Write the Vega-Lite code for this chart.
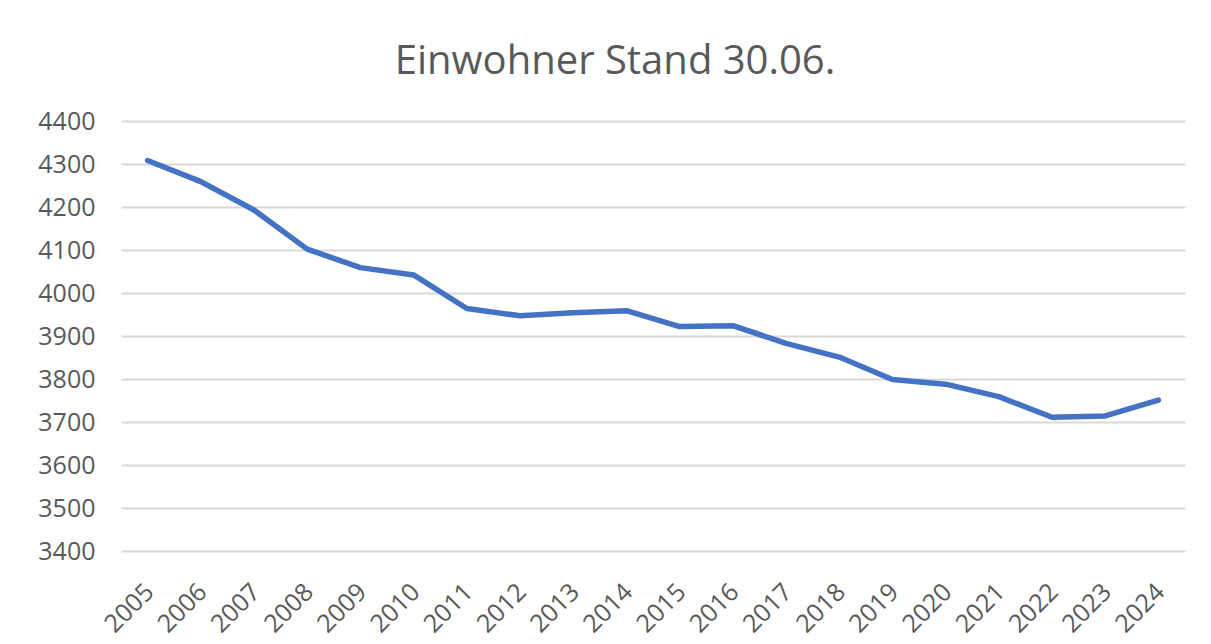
{
  "$schema": "https://vega.github.io/schema/vega-lite/v6.json",
  "width": 1064,
  "height": 430,
  "autosize": {"type": "none"},
  "padding": {"left": 121, "top": 121, "right": 26, "bottom": 93},
  "background": "white",
  "title": {
    "text": "Einwohner Stand 30.06.",
    "font": "Open Sans",
    "fontSize": 40,
    "fontWeight": "normal",
    "color": "#595959",
    "anchor": "middle",
    "dx": -38,
    "offset": 27
  },
  "data": {
    "values": [
      {"Jahr": "2005", "Einwohner": 4308},
      {"Jahr": "2006", "Einwohner": 4259},
      {"Jahr": "2007", "Einwohner": 4193},
      {"Jahr": "2008", "Einwohner": 4102},
      {"Jahr": "2009", "Einwohner": 4059},
      {"Jahr": "2010", "Einwohner": 4042},
      {"Jahr": "2011", "Einwohner": 3964},
      {"Jahr": "2012", "Einwohner": 3947},
      {"Jahr": "2013", "Einwohner": 3954},
      {"Jahr": "2014", "Einwohner": 3959},
      {"Jahr": "2015", "Einwohner": 3922},
      {"Jahr": "2016", "Einwohner": 3924},
      {"Jahr": "2017", "Einwohner": 3883},
      {"Jahr": "2018", "Einwohner": 3851},
      {"Jahr": "2019", "Einwohner": 3799},
      {"Jahr": "2020", "Einwohner": 3788},
      {"Jahr": "2021", "Einwohner": 3759},
      {"Jahr": "2022", "Einwohner": 3711},
      {"Jahr": "2023", "Einwohner": 3714},
      {"Jahr": "2024", "Einwohner": 3751}
    ]
  },
  "mark": {"type": "line", "color": "#4472C4", "strokeWidth": 5.5, "strokeCap": "round", "strokeJoin": "round"},
  "encoding": {
    "x": {
      "field": "Jahr",
      "type": "ordinal",
      "title": null,
      "axis": {
        "labelAngle": -45,
        "labelFont": "Open Sans",
        "labelFontSize": 25,
        "labelColor": "#595959",
        "labelPadding": 28,
        "labelOffset": -7,
        "ticks": false,
        "domain": false,
        "grid": false
      }
    },
    "y": {
      "field": "Einwohner",
      "type": "quantitative",
      "title": null,
      "scale": {"domain": [3400, 4400], "nice": false, "zero": false},
      "axis": {
        "values": [3400, 3500, 3600, 3700, 3800, 3900, 4000, 4100, 4200, 4300, 4400],
        "labelFont": "Open Sans",
        "labelFontSize": 25,
        "labelColor": "#595959",
        "labelPadding": 26,
        "ticks": false,
        "domain": false,
        "grid": true,
        "gridColor": "#d9d9d9",
        "gridWidth": 2,
        "format": "d"
      }
    }
  },
  "config": {"view": {"stroke": null}}
}
